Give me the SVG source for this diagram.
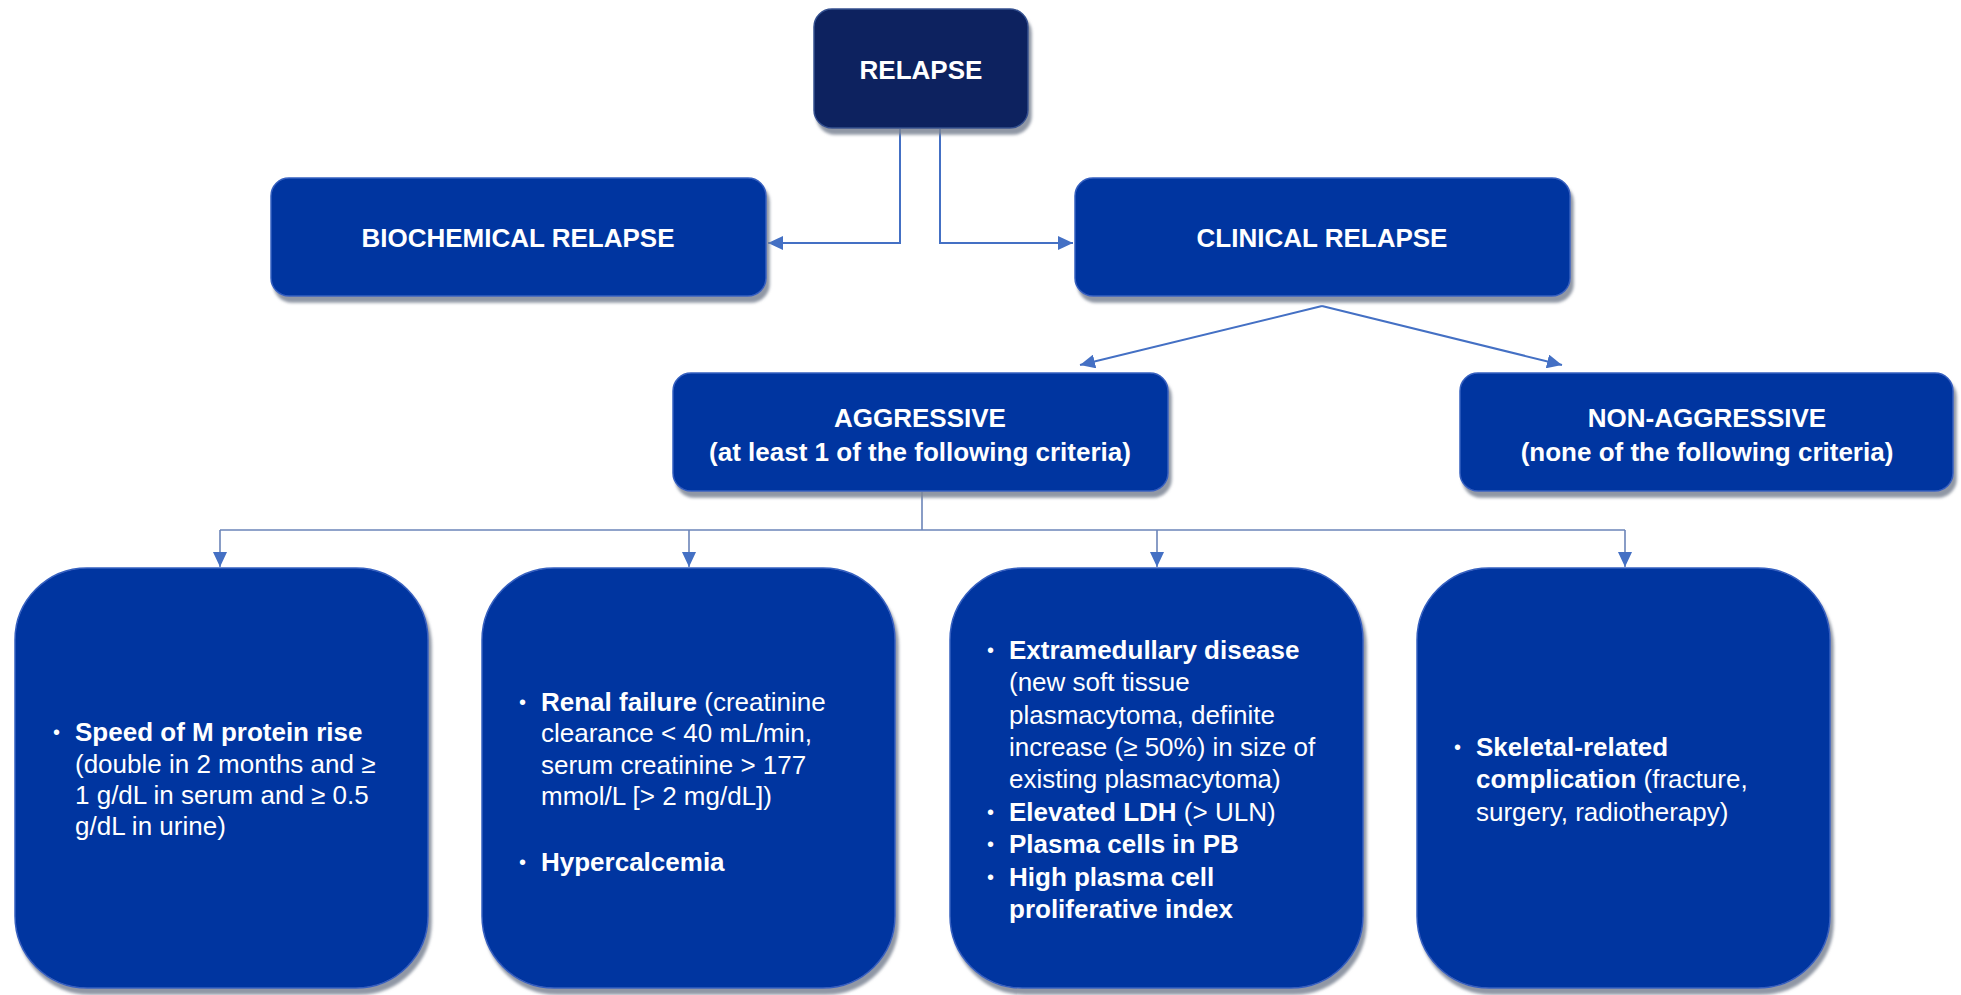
<svg xmlns="http://www.w3.org/2000/svg" width="1961" height="995" viewBox="0 0 1961 995">
<defs>
<filter id="sh" x="-5%" y="-5%" width="115%" height="120%">
<feDropShadow dx="3" dy="6" stdDeviation="1.5" flood-color="#7d8594" flood-opacity="0.85"/>
</filter>
<marker id="ah" markerUnits="userSpaceOnUse" markerWidth="16" markerHeight="14" refX="15" refY="7" orient="auto">
<path d="M0,0 L15,7 L0,14 z" fill="#4470c4"/>
</marker>
</defs>
<style>
.box{fill:#0535a0;stroke:#3560c0;stroke-width:1.5;filter:url(#sh)}
.top{fill:#0b205f;stroke:#34508f;stroke-width:1.5;filter:url(#sh)}
.t{font-family:"Liberation Sans",Arial,sans-serif;font-size:26px;fill:#ffffff}
.b{font-weight:bold}
.c{text-anchor:middle}
.con{fill:none;stroke:#4470c4;stroke-width:2}
.con2{fill:none;stroke:#6b84b8;stroke-width:1.6}
.bul{font-size:20px}
</style>
<rect width="1961" height="995" fill="#ffffff"/>
<g id="connectors">
<path class="con" d="M900,129 V243 H768" marker-end="url(#ah)"/>
<path class="con" d="M940,129 V243 H1073" marker-end="url(#ah)"/>
<path class="con" d="M1322,306 L1080,365" marker-end="url(#ah)"/>
<path class="con" d="M1322,306 L1562,365" marker-end="url(#ah)"/>
<path class="con2" d="M922,492 V530"/>
<path class="con2" d="M220,530 H1625"/>
<path class="con2" d="M220,530 V567" marker-end="url(#ah)"/>
<path class="con2" d="M689,530 V567" marker-end="url(#ah)"/>
<path class="con2" d="M1157,530 V567" marker-end="url(#ah)"/>
<path class="con2" d="M1625,530 V567" marker-end="url(#ah)"/>
</g>
<g id="relapse">
<rect class="top" x="814" y="9" width="214" height="119" rx="18"/>
<text class="t b c" x="921" y="79">RELAPSE</text>
</g>
<g id="biochemical">
<rect class="box" x="271" y="178" width="495" height="118" rx="18"/>
<text class="t b c" x="518" y="247">BIOCHEMICAL RELAPSE</text>
</g>
<g id="clinical">
<rect class="box" x="1075" y="178" width="495" height="118" rx="18"/>
<text class="t b c" x="1322" y="247">CLINICAL RELAPSE</text>
</g>
<g id="aggressive">
<rect class="box" x="673" y="373" width="495" height="118" rx="18"/>
<text class="t b c" x="920" y="427">AGGRESSIVE</text>
<text class="t b c" x="920" y="461">(at least 1 of the following criteria)</text>
</g>
<g id="nonaggressive">
<rect class="box" x="1460" y="373" width="493" height="118" rx="18"/>
<text class="t b c" x="1707" y="427">NON-AGGRESSIVE</text>
<text class="t b c" x="1707" y="461">(none of the following criteria)</text>
</g>
<g id="crit1">
<rect class="box" x="15" y="568" width="413" height="420" rx="72"/>
<text class="t bul" x="53" y="739">•</text>
<text class="t b" x="75" y="741">Speed of M protein rise</text>
<text class="t" x="75" y="773">(double in 2 months and ≥</text>
<text class="t" x="75" y="804">1 g/dL in serum and ≥ 0.5</text>
<text class="t" x="75" y="835">g/dL in urine)</text>
</g>
<g id="crit2">
<rect class="box" x="482" y="568" width="413" height="420" rx="72"/>
<text class="t bul" x="519" y="709">•</text>
<text class="t" x="541" y="711"><tspan class="b">Renal failure</tspan> (creatinine</text>
<text class="t" x="541" y="742">clearance &lt; 40 mL/min,</text>
<text class="t" x="541" y="774">serum creatinine &gt; 177</text>
<text class="t" x="541" y="805">mmol/L [&gt; 2 mg/dL])</text>
<text class="t bul" x="519" y="869">•</text>
<text class="t b" x="541" y="871">Hypercalcemia</text>
</g>
<g id="crit3">
<rect class="box" x="950" y="568" width="413" height="420" rx="72"/>
<text class="t bul" x="987" y="657">•</text>
<text class="t b" x="1009" y="659">Extramedullary disease</text>
<text class="t" x="1009" y="691">(new soft tissue</text>
<text class="t" x="1009" y="724">plasmacytoma, definite</text>
<text class="t" x="1009" y="756">increase (≥ 50%) in size of</text>
<text class="t" x="1009" y="788">existing plasmacytoma)</text>
<text class="t bul" x="987" y="819">•</text>
<text class="t" x="1009" y="821"><tspan class="b">Elevated LDH</tspan> (&gt; ULN)</text>
<text class="t bul" x="987" y="851">•</text>
<text class="t b" x="1009" y="853">Plasma cells in PB</text>
<text class="t bul" x="987" y="884">•</text>
<text class="t b" x="1009" y="886">High plasma cell</text>
<text class="t b" x="1009" y="918">proliferative index</text>
</g>
<g id="crit4">
<rect class="box" x="1417" y="568" width="413" height="420" rx="72"/>
<text class="t bul" x="1454" y="754">•</text>
<text class="t b" x="1476" y="756">Skeletal-related</text>
<text class="t" x="1476" y="788"><tspan class="b">complication</tspan> (fracture,</text>
<text class="t" x="1476" y="821">surgery, radiotherapy)</text>
</g>
</svg>
